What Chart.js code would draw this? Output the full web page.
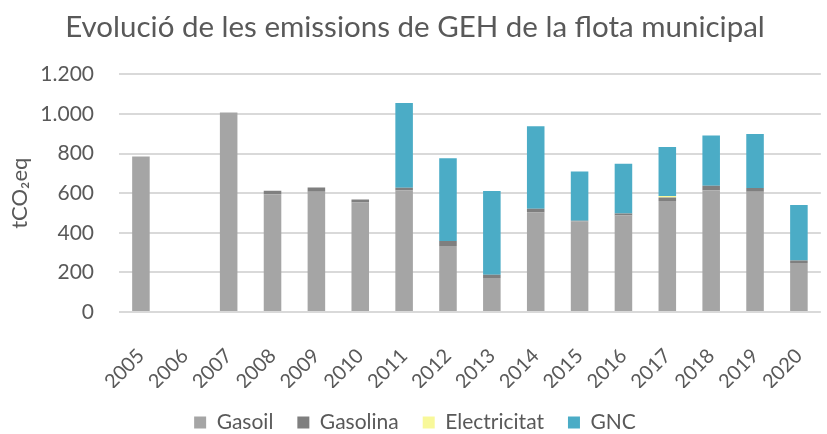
<!DOCTYPE html>
<html><head><meta charset="utf-8">
<script src="https://cdn.jsdelivr.net/npm/chart.js@4"></script>
<style>
html,body{margin:0;padding:0;overflow:hidden;background:#fff;width:827px;height:434px}
#wrap{position:absolute;left:0;top:0;width:840px;height:446px}
</style>
</head><body><div id="wrap"><canvas id="c"></canvas></div>
<script>
const years = ['2005','2006','2007','2008','2009','2010','2011','2012','2013','2014','2015','2016','2017','2018','2019','2020'];
const gasoil       = [785, null, 1008, 595, 607, 553, 615, 333, 172, 502, 458, 487, 561, 615, 607, 248];
const gasolina     = [0,   null, 0,    17,  22,  15,  12,  25,  16,  20,  3,   10,  17,  22,  19,  12];
const electricitat = [0,   null, 0,    0,   0,   0,   0,   0,   0,   0,   0,   0,   8,   0,   0,   0];
const gnc          = [0,   null, 0,    0,   0,   0,   428, 418, 423, 416, 249, 252, 247, 255, 273, 280];
const yMin = 0, yMax = 1200, yStep = 200;

const FONT = 'Lato';
const TXT = '#595959';

function fmt(v){
  if (v >= 1000) return Math.floor(v/1000) + '.' + String(v % 1000).padStart(3,'0');
  return String(v);
}

new Chart(document.getElementById('c'), {
  type: 'bar',
  data: {
    labels: years,
    datasets: [
      {label:'Gasoil', data: gasoil, backgroundColor:'#a5a5a5'},
      {label:'Gasolina', data: gasolina, backgroundColor:'#7f7f7f'},
      {label:'Electricitat', data: electricitat, backgroundColor:'#f8f89a'},
      {label:'GNC', data: gnc, backgroundColor:'#4bacc6'}
    ]
  },
  options: {
    responsive: true,
    maintainAspectRatio: false,
    animation: false,
    datasets: { bar: { categoryPercentage: 1, barPercentage: 0.4 } },
    layout: { padding: { left: -6, right: 4, top: 0, bottom: 3 } },
    plugins: {
      title: {
        display: true,
        text: 'Evolució de les emissions de GEH de la flota municipal',
        color: TXT,
        font: { family: FONT, size: 29.5, weight: 'normal' },
        padding: { top: 10, bottom: 29 }
      },
      legend: {
        position: 'bottom',
        labels: {
          color: TXT,
          font: { family: FONT, size: 21 },
          boxWidth: 12, boxHeight: 12,
          padding: 24
        }
      },
      tooltip: { enabled: false }
    },
    scales: {
      x: {
        stacked: true,
        grid: { display: false },
        border: { display: false },
        ticks: { color: TXT, font: { family: FONT, size: 20 }, maxRotation: 45, minRotation: 45, padding: 24 },
        afterFit: (s) => { s.height = 76; }
      },
      y: {
        stacked: true,
        min: yMin, max: yMax,
        grid: { color: '#d9d9d9', lineWidth: 2, drawTicks: false },
        border: { display: false },
        ticks: { stepSize: yStep, color: TXT, font: { family: FONT, size: 21 }, padding: 25, callback: (v) => fmt(v) },
        title: { display: true, text: 'tCO₂eq', color: TXT, font: { family: FONT, size: 22 }, padding: { top: 13, bottom: 4 } },
        afterFit: (s) => { s.width = 125; }
      }
    }
  }
});
</script>
</body></html>
